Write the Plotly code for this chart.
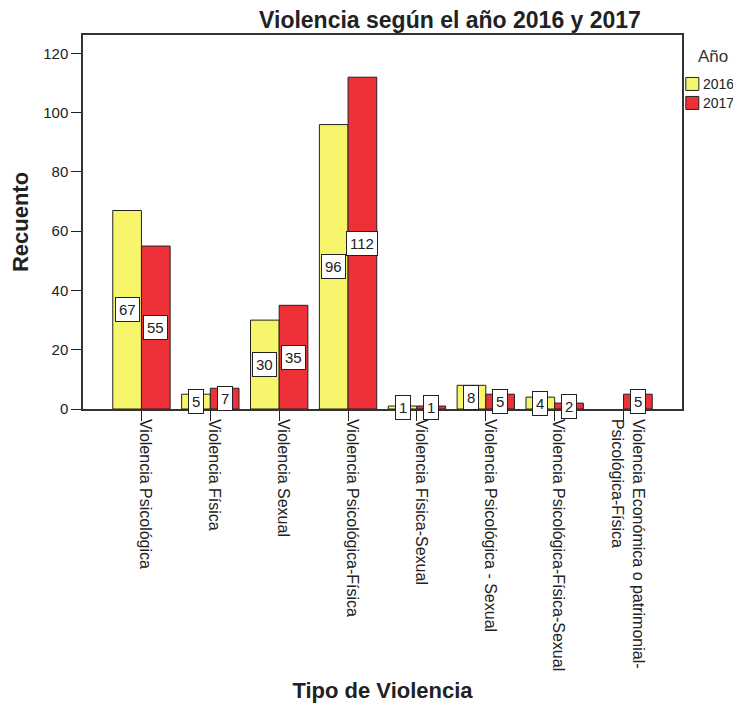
import plotly.graph_objects as go

categories = [
    "Violencia Psicológica",
    "Violencia Física",
    "Violencia Sexual",
    "Violencia Psicológica-Física",
    "Violencia Física-Sexual",
    "Violencia Psicológica - Sexual",
    "Violencia Psicológica-Física-Sexual",
    "Violencia Económica o patrimonial-<br>Psicológica-Física",
]
values_2016 = [67, 5, 30, 96, 1, 8, 4, 0]
values_2017 = [55, 7, 35, 112, 1, 5, 2, 5]
series_names = ["2016", "2017"]
colors = ["#F6F56C", "#EE3139"]
legend_title = "Año"

FONT = "Liberation Sans, Arial, sans-serif"
INK = "#222222"

# page body has an 8px margin; figure coordinates are relative to it
PLOT_L, PLOT_R, PLOT_T, PLOT_B = 83.3, 681.7, 35.0, 409.3   # screen px
OFF = 8
W, H = 741 - OFF, 711 - 2 * OFF


def px_to_paper(sx, sy):
    return ((sx - PLOT_L) / (PLOT_R - PLOT_L), (PLOT_B - sy) / (PLOT_B - PLOT_T))


fig = go.Figure()
for name, vals, col in zip(series_names, [values_2016, values_2017], colors):
    fig.add_trace(go.Bar(
        x=categories, y=[v if v > 0 else None for v in vals], name=name,
        marker=dict(color=col, line=dict(color=INK, width=1)),
        showlegend=False,
    ))

bargap = 0.167
half = (1 - bargap) / 4
annotations = []
for k, vals in enumerate([values_2016, values_2017]):
    off = -half if k == 0 else half
    for i, v in enumerate(vals):
        if v <= 0:
            continue
        annotations.append(dict(
            x=i + off, y=v / 2, xref="x", yref="y", text=str(v),
            showarrow=False, bgcolor="white", bordercolor=INK,
            borderwidth=1, borderpad=3,
            font=dict(family=FONT, size=15, color=INK),
        ))

# manual legend (title + swatches + labels)
shapes = []
lx, ly = px_to_paper(713, 57)
annotations.append(dict(x=lx, y=ly, xref="paper", yref="paper", text=legend_title,
                        showarrow=False, xanchor="center", yanchor="middle",
                        font=dict(family=FONT, size=17, color="#333333")))
for j, (name, col) in enumerate(zip(series_names, colors)):
    cy = 84 + j * 19
    x0, y0 = px_to_paper(685.5, cy + 6.5)
    x1, y1 = px_to_paper(698.5, cy - 6.5)
    shapes.append(dict(type="rect", xref="paper", yref="paper",
                       x0=x0, x1=x1, y0=y0, y1=y1,
                       fillcolor=col, line=dict(color=INK, width=1)))
    tx, ty = px_to_paper(701, cy)
    annotations.append(dict(x=tx, y=ty, xref="paper", yref="paper", text=name,
                            showarrow=False, xanchor="left", yanchor="middle",
                            font=dict(family=FONT, size=14, color=INK)))

cat_w = 68.8
first_tick = 141.7
x_lo = -(first_tick - PLOT_L) / cat_w
x_hi = x_lo + (PLOT_R - PLOT_L) / cat_w

fig.update_layout(
    width=W, height=H,
    margin=dict(l=PLOT_L - OFF, r=W - (PLOT_R - OFF), t=PLOT_T - OFF,
                b=H - (PLOT_B - OFF), autoexpand=False),
    paper_bgcolor="white", plot_bgcolor="white",
    barmode="group", bargap=bargap, bargroupgap=0,
    font=dict(family=FONT, size=15, color=INK),
    title=dict(text="<b>Violencia según el año 2016 y 2017</b>",
               font=dict(family=FONT, size=23, color=INK),
               x=(450 - OFF) / W, xanchor="center", xref="container",
               y=1 - 4 / H, yanchor="top", yref="container", pad=dict(t=0)),
    showlegend=False,
    xaxis=dict(
        type="category", range=[x_lo, x_hi],
        tickangle=90, ticks="outside", ticklen=10, tickcolor=INK,
        ticklabelshift=4, ticklabelstandoff=-5,
        showline=True, linecolor="#333333", linewidth=1.5, mirror=True,
        showgrid=False, zeroline=False,
        tickfont=dict(family=FONT, size=16, color=INK),
        title=dict(text="<b>Tipo de Violencia</b>", standoff=18,
                   font=dict(family=FONT, size=22, color=INK)),
    ),
    yaxis=dict(
        range=[0, (PLOT_B - PLOT_T) / 2.965], tickvals=[0, 20, 40, 60, 80, 100, 120],
        ticks="outside", ticklen=10, tickcolor=INK,
        showline=True, linecolor="#333333", linewidth=1.5, mirror=True,
        showgrid=False, zeroline=False,
        tickfont=dict(family=FONT, size=15, color=INK),
        title=dict(text="<b>Recuento</b>", standoff=16,
                   font=dict(family=FONT, size=22, color=INK)),
    ),
    annotations=annotations,
    shapes=shapes,
)

fig.write_html("out.html")
